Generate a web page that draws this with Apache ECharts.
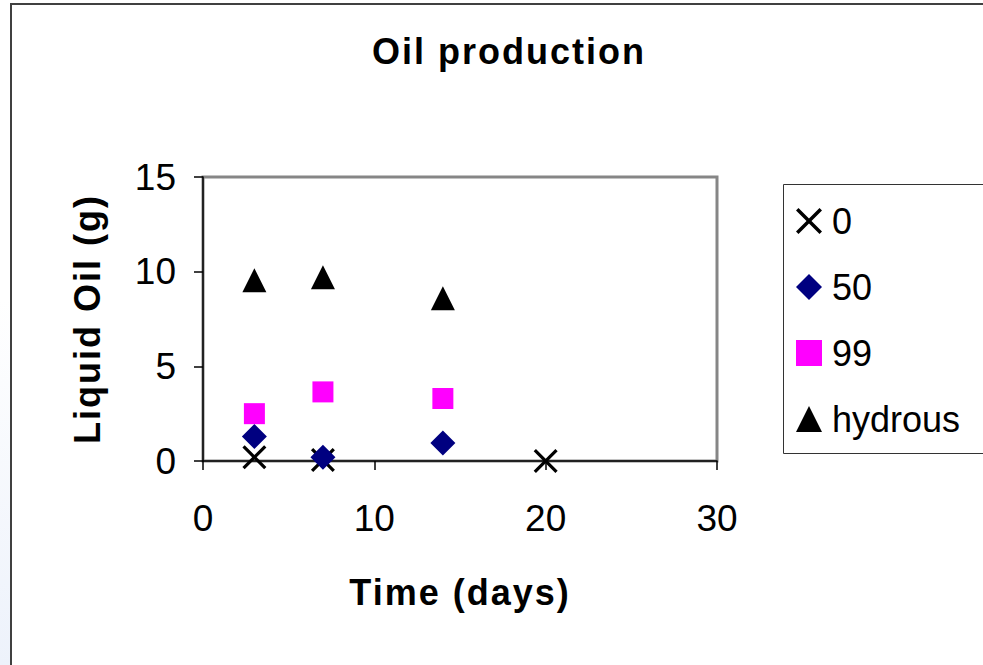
<!DOCTYPE html>
<html>
<head>
<meta charset="utf-8">
<style>
  html, body { margin: 0; padding: 0; background: #ffffff; }
  #chart { width: 983px; height: 665px; }
  /* bold headings are set slightly tracked out */
  #chart svg text[style*="bold"],
  #chart svg text[font-weight="bold"] { letter-spacing: 2px; }
</style>
<script src="https://cdn.jsdelivr.net/npm/echarts@6/dist/echarts.min.js"></script>
</head>
<body>
<div id="chart"></div>
<script>
// Liquid oil recovered (g) against time (days) for each run
const seriesNames = ['0', '50', '99', 'hydrous'];
const run0 = [[3, 0.2], [7, 0.05], [20, 0]];
const run50 = [[3, 1.3], [7, 0.2], [14, 0.95]];
const run99 = [[3, 2.5], [7, 3.65], [14, 3.3]];
const runHydrous = [[3, 9.55], [7, 9.7], [14, 8.6]];
const xTicks = [0, 10, 20, 30];
const yTicks = [0, 5, 10, 15];

const FONT = '"Liberation Sans", Arial, sans-serif';
// filled "x" cross outline
const crossPath = 'path://M0,1.9L1.9,0L10,8.1L18.1,0L20,1.9L11.9,10L20,18.1L18.1,20L10,11.9L1.9,20L0,18.1L8.1,10Z';

const chart = echarts.init(document.getElementById('chart'), null, { renderer: 'svg' });

chart.setOption({
  backgroundColor: '#ffffff',
  animation: false,
  title: {
    text: 'Oil production',
    left: 367,
    top: 28,
    textStyle: { fontFamily: FONT, fontSize: 36, fontWeight: 'bold', color: '#000' }
  },
  grid: {
    left: 203, top: 177, right: 266, bottom: 204,
    show: true, borderColor: '#868686', borderWidth: 3, backgroundColor: 'transparent'
  },
  xAxis: {
    type: 'value',
    min: xTicks[0], max: xTicks[xTicks.length - 1], interval: 10,
    name: 'Time (days)',
    nameLocation: 'middle',
    nameGap: 113,
    nameTextStyle: { fontFamily: FONT, fontSize: 36, fontWeight: 'bold', color: '#000' },
    axisLine: { show: true, onZero: false, lineStyle: { color: '#000', width: 1.5 } },
    axisTick: { show: true, inside: false, length: 9, lineStyle: { color: '#000', width: 1.5 } },
    axisLabel: { margin: 39, fontFamily: FONT, fontSize: 37, color: '#000' },
    splitLine: { show: false }
  },
  yAxis: {
    type: 'value',
    min: yTicks[0], max: yTicks[yTicks.length - 1], interval: 5,
    name: 'Liquid Oil (g)',
    nameLocation: 'middle',
    nameGap: 98,
    nameRotate: 90,
    nameTextStyle: { fontFamily: FONT, fontSize: 36, fontWeight: 'bold', color: '#000' },
    axisLine: { show: true, onZero: false, lineStyle: { color: '#000', width: 1.5 } },
    axisTick: { show: true, inside: false, length: 9, lineStyle: { color: '#000', width: 1.5 } },
    axisLabel: { margin: 27, fontFamily: FONT, fontSize: 37, color: '#000' },
    splitLine: { show: false }
  },
  legend: {
    orient: 'vertical',
    left: 791,
    top: 196,
    itemWidth: 26,
    itemHeight: 26,
    itemGap: 26,
    selectedMode: false,
    textStyle: { fontFamily: FONT, fontSize: 36, color: '#000', lineHeight: 40, padding: [0, 0, 0, 5] },
    data: seriesNames
  },
  graphic: [
    {
      type: 'rect', silent: true, z: -10,
      shape: { x: 0, y: 300, width: 10, height: 365 },
      style: {
        fill: new echarts.graphic.LinearGradient(0, 0, 0, 1, [
          { offset: 0, color: '#ffffff' }, { offset: 1, color: '#edf2fb' }
        ])
      }
    },
    {
      type: 'rect', silent: true, z: -5,
      shape: { x: 11, y: 4, width: 1000, height: 700 },
      style: { fill: '#ffffff', stroke: '#404040', lineWidth: 2 }
    },
    {
      type: 'rect', silent: true, z: -1,
      shape: { x: 783.5, y: 184.5, width: 300, height: 269 },
      style: { fill: '#ffffff', stroke: '#333333', lineWidth: 1 }
    }
  ],
  series: [
    {
      name: seriesNames[0], type: 'scatter', data: run0, clip: false,
      symbol: crossPath, symbolSize: 24,
      itemStyle: { color: '#000000', opacity: 1 }
    },
    {
      name: seriesNames[1], type: 'scatter', data: run50, clip: false,
      symbol: 'diamond', symbolSize: 25,
      itemStyle: { color: '#000080', opacity: 1 }
    },
    {
      name: seriesNames[2], type: 'scatter', data: run99, clip: false,
      symbol: 'rect', symbolSize: 21,
      itemStyle: { color: '#ff00ff', opacity: 1 }
    },
    {
      name: seriesNames[3], type: 'scatter', data: runHydrous, clip: false,
      symbol: 'triangle', symbolSize: [24, 24],
      itemStyle: { color: '#000000', opacity: 1 }
    }
  ]
});
</script>
</body>
</html>
